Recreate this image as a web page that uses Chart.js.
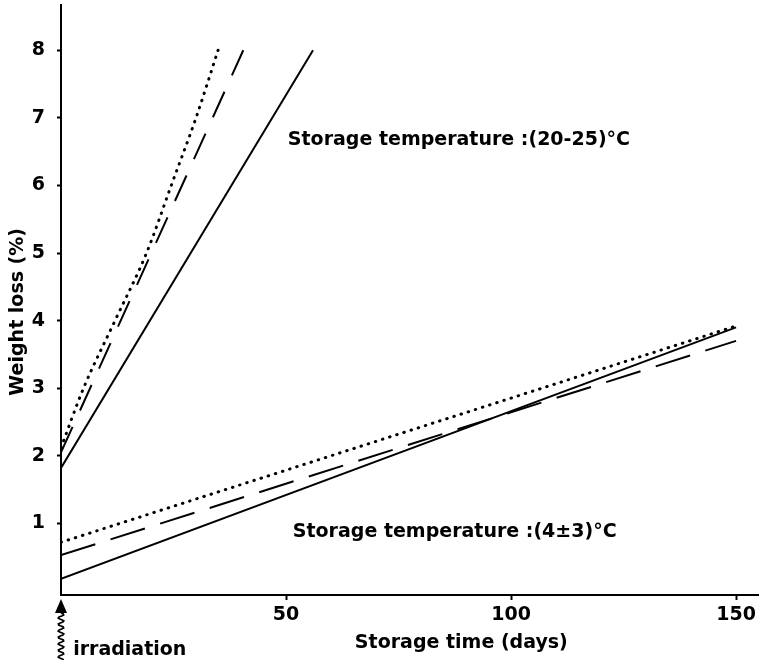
<!DOCTYPE html>
<html>
<head>
<meta charset="utf-8">
<script src="https://cdn.jsdelivr.net/npm/chart.js@4.4.0/dist/chart.umd.min.js"></script>
<style>
  html, body { margin: 0; padding: 0; background: #fff; }
  #wrap { width: 759px; height: 660px; }
</style>
</head>
<body>
<div id="wrap"><canvas id="c" width="759" height="660"></canvas></div>
<script>
// ---- Data ----
const xTickValues = [50, 100, 150];
const yTickValues = [1, 2, 3, 4, 5, 6, 7, 8];

// Storage temperature (20-25) °C
const warmSolidDays  = [0, 56];
const warmSolidLoss  = [1.82, 8.0];
const warmDashedDays = [0, 40.5];
const warmDashedLoss = [2.05, 8.0];
const warmDottedDays = [0, 5, 12, 19, 24.5, 30, 34.9];
const warmDottedLoss = [2.12, 3.0, 4.0, 5.0, 6.0, 7.0, 8.0];

// Storage temperature (4±3) °C
const coldDays       = [0, 150];
const coldSolidLoss  = [0.18, 3.9];
const coldDashedLoss = [0.53, 3.7];
const coldDottedLoss = [0.72, 3.92];

const xTitle = 'Storage time (days)';
const yTitle = 'Weight loss (%)';
const labels = [
  { text: 'Storage temperature :(20-25)°C', day: 50.4, loss: 6.6 },
  { text: 'Storage temperature :(4±3)°C',   day: 51.5, loss: 0.8 },
  { text: 'irradiation',                    day: 2.7,  loss: -0.95 },
  { text: xTitle,                           day: 65.3, loss: -0.84 }
];
const yTitlePos = { day: -8.4, loss: 4.13 };

const FONT = '"DejaVu Sans", sans-serif';

function pts(xs, ys) { return xs.map((x, i) => ({ x: x, y: ys[i] })); }

function lineDs(xs, ys, style) {
  const base = {
    data: pts(xs, ys),
    borderColor: '#000',
    pointRadius: 0,
    fill: false,
    tension: 0
  };
  if (style === 'solid') return Object.assign(base, { borderWidth: 2 });
  if (style.startsWith('dash')) return Object.assign(base, { borderWidth: 2, borderDash: style === 'dashW' ? [28, 18] : [36, 16] });
  return Object.assign(base, { borderWidth: 3, borderDash: [0.5, 7], borderCapStyle: 'round' });
}

const annotate = {
  id: 'annotate',
  afterDraw(chart) {
    const { ctx, scales: { x, y } } = chart;
    ctx.save();
    ctx.fillStyle = '#000';
    ctx.font = 'bold 19px ' + FONT;
    ctx.textAlign = 'left';
    ctx.textBaseline = 'alphabetic';
    labels.forEach(l => ctx.fillText(l.text, x.getPixelForValue(l.day), y.getPixelForValue(l.loss)));

    // rotated y-axis title
    ctx.save();
    ctx.translate(x.getPixelForValue(yTitlePos.day), y.getPixelForValue(yTitlePos.loss));
    ctx.rotate(-Math.PI / 2);
    ctx.textAlign = 'center';
    ctx.fillText(yTitle, 0, 0);
    ctx.restore();

    // irradiation arrow at day 0
    const ax = x.getPixelForValue(0);
    const top = chart.chartArea.bottom + 4;
    ctx.beginPath();
    ctx.moveTo(ax, top);
    ctx.lineTo(ax - 6, top + 14);
    ctx.lineTo(ax + 6, top + 14);
    ctx.closePath();
    ctx.fill();
    ctx.strokeStyle = '#000';
    ctx.lineWidth = 1.7;
    ctx.beginPath();
    ctx.moveTo(ax, top + 14);
    for (let yy = top + 14; yy <= chart.height; yy += 1) {
      const xx = ax + 2.8 * Math.sin((yy - top - 14) / 6.5 * 2 * Math.PI);
      ctx.lineTo(xx, yy);
    }
    ctx.stroke();
    ctx.restore();
  }
};

new Chart(document.getElementById('c'), {
  type: 'line',
  data: {
    datasets: [
      lineDs(warmSolidDays, warmSolidLoss, 'solid'),
      lineDs(warmDashedDays, warmDashedLoss, 'dashW'),
      Object.assign(lineDs(warmDottedDays, warmDottedLoss, 'dot'), { cubicInterpolationMode: 'monotone' }),
      lineDs(coldDays, coldSolidLoss, 'solid'),
      lineDs(coldDays, coldDashedLoss, 'dashC'),
      lineDs(coldDays, coldDottedLoss, 'dot')
    ]
  },
  options: {
    responsive: false,
    animation: false,
    devicePixelRatio: 1,
    layout: { padding: { top: 5, right: 0, left: 0, bottom: 0 } },
    plugins: { legend: { display: false }, tooltip: { enabled: false } },
    scales: {
      x: {
        type: 'linear',
        min: 0,
        max: 155.1,
        afterFit(s) { s.height = 65; s.paddingLeft = 0; s.paddingRight = 0; },
        afterBuildTicks(s) { s.ticks = xTickValues.map(v => ({ value: v })); },
        border: { display: true, color: '#000', width: 2 },
        grid: { display: true, drawOnChartArea: false, drawTicks: true, tickLength: 5, tickWidth: 2, tickColor: '#000' },
        ticks: { color: '#000', font: { family: FONT, size: 19, weight: 'bold' }, padding: 4, maxRotation: 0 },
        title: { display: false }
      },
      y: {
        type: 'linear',
        min: -0.06,
        max: 8.67,
        afterFit(s) { s.width = 61; s.paddingTop = 0; s.paddingBottom = 0; },
        afterBuildTicks(s) { s.ticks = yTickValues.map(v => ({ value: v })); },
        border: { display: true, color: '#000', width: 2 },
        grid: { display: true, drawOnChartArea: false, drawTicks: true, tickLength: 4, tickWidth: 2, tickColor: '#000' },
        ticks: { color: '#000', font: { family: FONT, size: 19, weight: 'bold' }, padding: 12 },
        title: { display: false }
      }
    }
  },
  plugins: [annotate]
});
</script>
</body>
</html>
